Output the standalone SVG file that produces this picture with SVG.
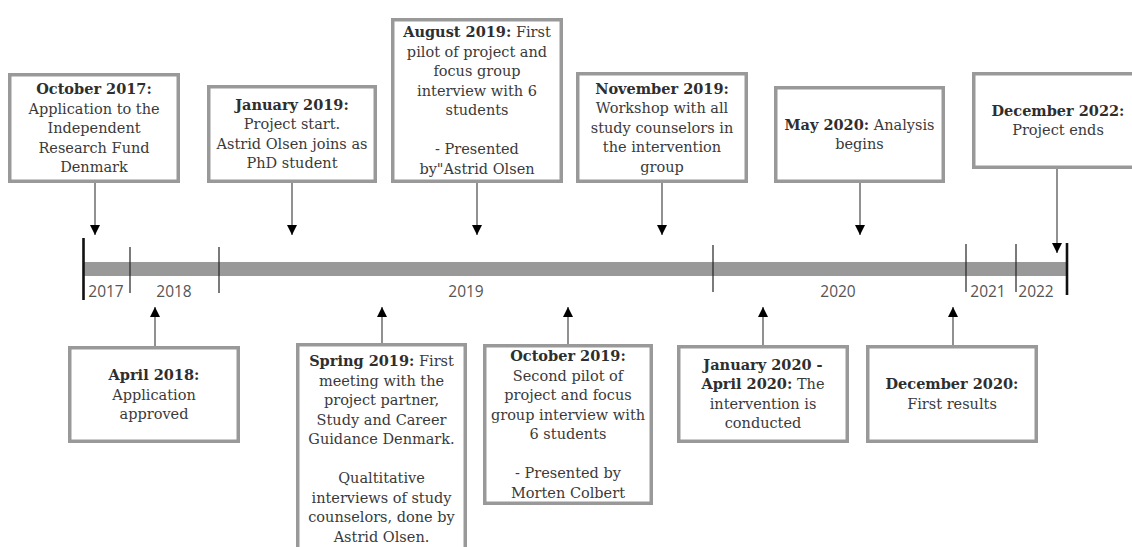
<svg xmlns="http://www.w3.org/2000/svg" width="1132" height="547" viewBox="0 0 1132 547">
<defs>
<style>
.box{fill:#fff;stroke:#999;stroke-width:3.5}
.t{font-family:"DejaVu Serif","Liberation Serif",serif;font-size:14.5px;fill:#3a3a3a;text-anchor:middle}
.b{font-weight:bold;fill:#2e2e2e}
.yr{font-family:"Open Sans","DejaVu Sans",sans-serif;font-size:15.5px;fill:#555;text-anchor:middle}
.conn{stroke:#555;stroke-width:1.3;fill:none}
.tick{stroke:#222;stroke-width:1.2}
.end{stroke:#111;stroke-width:2.6}
</style>
<marker id="ah" viewBox="0 0 10 10" refX="10" refY="5" markerWidth="10" markerHeight="10" markerUnits="userSpaceOnUse" orient="auto">
<path d="M0,0 L10,5 L0,10 z" fill="#000"/>
</marker>
</defs>
<rect width="1132" height="547" fill="#fff"/>

<g id="timeline">
<rect x="83" y="262" width="984" height="14" fill="#999"/>
<line class="end" x1="83.5" y1="238" x2="83.5" y2="300"/>
<line class="end" x1="1067" y1="243" x2="1067" y2="295"/>
<line class="tick" x1="130" y1="247" x2="130" y2="293"/>
<line class="tick" x1="219" y1="247" x2="219" y2="293"/>
<line class="tick" x1="713" y1="245" x2="713" y2="292"/>
<line class="tick" x1="966" y1="244" x2="966" y2="292"/>
<line class="tick" x1="1016" y1="244" x2="1016" y2="292"/>
<text class="yr" x="106" y="297">2017</text>
<text class="yr" x="174" y="297">2018</text>
<text class="yr" x="466" y="297">2019</text>
<text class="yr" x="838" y="297">2020</text>
<text class="yr" x="988" y="297">2021</text>
<text class="yr" x="1036" y="297">2022</text>
</g>

<g id="connectors">
<line class="conn" x1="95" y1="183" x2="95" y2="235" marker-end="url(#ah)"/>
<line class="conn" x1="292" y1="183" x2="292" y2="235" marker-end="url(#ah)"/>
<line class="conn" x1="477" y1="183" x2="477" y2="235" marker-end="url(#ah)"/>
<line class="conn" x1="662" y1="183" x2="662" y2="235" marker-end="url(#ah)"/>
<line class="conn" x1="860" y1="183" x2="860" y2="235" marker-end="url(#ah)"/>
<line class="conn" x1="1057" y1="169" x2="1057" y2="253" marker-end="url(#ah)"/>
<line class="conn" x1="155" y1="346" x2="155" y2="307" marker-end="url(#ah)"/>
<line class="conn" x1="382" y1="343" x2="382" y2="307" marker-end="url(#ah)"/>
<line class="conn" x1="568" y1="344" x2="568" y2="307" marker-end="url(#ah)"/>
<line class="conn" x1="763" y1="345" x2="763" y2="307" marker-end="url(#ah)"/>
<line class="conn" x1="953" y1="345" x2="953" y2="307" marker-end="url(#ah)"/>
</g>

<g id="oct2017">
<rect class="box" x="9.75" y="74.75" width="168.5" height="106.5"/>
<text class="t" x="94" y="94"><tspan class="b">October 2017:</tspan><tspan x="94" dy="19.5">Application to the</tspan><tspan x="94" dy="19.5">Independent</tspan><tspan x="94" dy="19.5">Research Fund</tspan><tspan x="94" dy="19.5">Denmark</tspan></text>
</g>

<g id="jan2019">
<rect class="box" x="208.75" y="86.75" width="166.5" height="94.5"/>
<text class="t" x="292" y="109.75"><tspan class="b">January 2019:</tspan><tspan x="292" dy="19.5">Project start.</tspan><tspan x="292" dy="19.5">Astrid Olsen joins as</tspan><tspan x="292" dy="19.5">PhD student</tspan></text>
</g>

<g id="aug2019">
<rect class="box" x="392.75" y="19.75" width="168.5" height="161.5"/>
<text class="t" x="477" y="37.25"><tspan class="b">August 2019:</tspan> First<tspan x="477" dy="19.5">pilot of project and</tspan><tspan x="477" dy="19.5">focus group</tspan><tspan x="477" dy="19.5">interview with 6</tspan><tspan x="477" dy="19.5">students</tspan><tspan x="477" dy="39">- Presented</tspan><tspan x="477" dy="19.5">by"Astrid Olsen</tspan></text>
</g>

<g id="nov2019">
<rect class="box" x="577.75" y="73.75" width="168.5" height="107.5"/>
<text class="t" x="662" y="93.5"><tspan class="b">November 2019:</tspan><tspan x="662" dy="19.5">Workshop with all</tspan><tspan x="662" dy="19.5">study counselors in</tspan><tspan x="662" dy="19.5">the intervention</tspan><tspan x="662" dy="19.5">group</tspan></text>
</g>

<g id="may2020">
<rect class="box" x="775.75" y="87.75" width="167.5" height="93.5"/>
<text class="t" x="859.5" y="129.75"><tspan class="b">May 2020:</tspan> Analysis<tspan x="859.5" dy="19.5">begins</tspan></text>
</g>

<g id="dec2022">
<rect class="box" x="973.75" y="73.75" width="168.5" height="93.5"/>
<text class="t" x="1058" y="115.75"><tspan class="b">December 2022:</tspan><tspan x="1058" dy="19.5">Project ends</tspan></text>
</g>

<g id="apr2018">
<rect class="box" x="69.75" y="347.75" width="168.5" height="93.5"/>
<text class="t" x="154" y="380"><tspan class="b">April 2018:</tspan><tspan x="154" dy="19.5">Application</tspan><tspan x="154" dy="19.5">approved</tspan></text>
</g>

<g id="spring2019">
<rect class="box" x="297.75" y="344.75" width="167.5" height="220"/>
<text class="t" x="381.5" y="366"><tspan class="b">Spring 2019:</tspan> First<tspan x="381.5" dy="19.5">meeting with the</tspan><tspan x="381.5" dy="19.5">project partner,</tspan><tspan x="381.5" dy="19.5">Study and Career</tspan><tspan x="381.5" dy="19.5">Guidance Denmark.</tspan><tspan x="381.5" dy="39">Qualtitative</tspan><tspan x="381.5" dy="19.5">interviews of study</tspan><tspan x="381.5" dy="19.5">counselors, done by</tspan><tspan x="381.5" dy="19.5">Astrid Olsen.</tspan></text>
</g>

<g id="oct2019">
<rect class="box" x="484.75" y="345.75" width="166.5" height="157.5"/>
<text class="t" x="568" y="361.25"><tspan class="b">October 2019:</tspan><tspan x="568" dy="19.5">Second pilot of</tspan><tspan x="568" dy="19.5">project and focus</tspan><tspan x="568" dy="19.5">group interview with</tspan><tspan x="568" dy="19.5">6 students</tspan><tspan x="568" dy="39">- Presented by</tspan><tspan x="568" dy="19.5">Morten Colbert</tspan></text>
</g>

<g id="jan2020">
<rect class="box" x="678.75" y="346.75" width="168.5" height="94.5"/>
<text class="t" x="763" y="369.75"><tspan class="b">January 2020 -</tspan><tspan x="763" dy="19.5" class="b">April 2020:</tspan><tspan> The</tspan><tspan x="763" dy="19.5">intervention is</tspan><tspan x="763" dy="19.5">conducted</tspan></text>
</g>

<g id="dec2020">
<rect class="box" x="867.75" y="346.75" width="168.5" height="94.5"/>
<text class="t" x="952" y="389"><tspan class="b">December 2020:</tspan><tspan x="952" dy="19.5">First results</tspan></text>
</g>
</svg>
